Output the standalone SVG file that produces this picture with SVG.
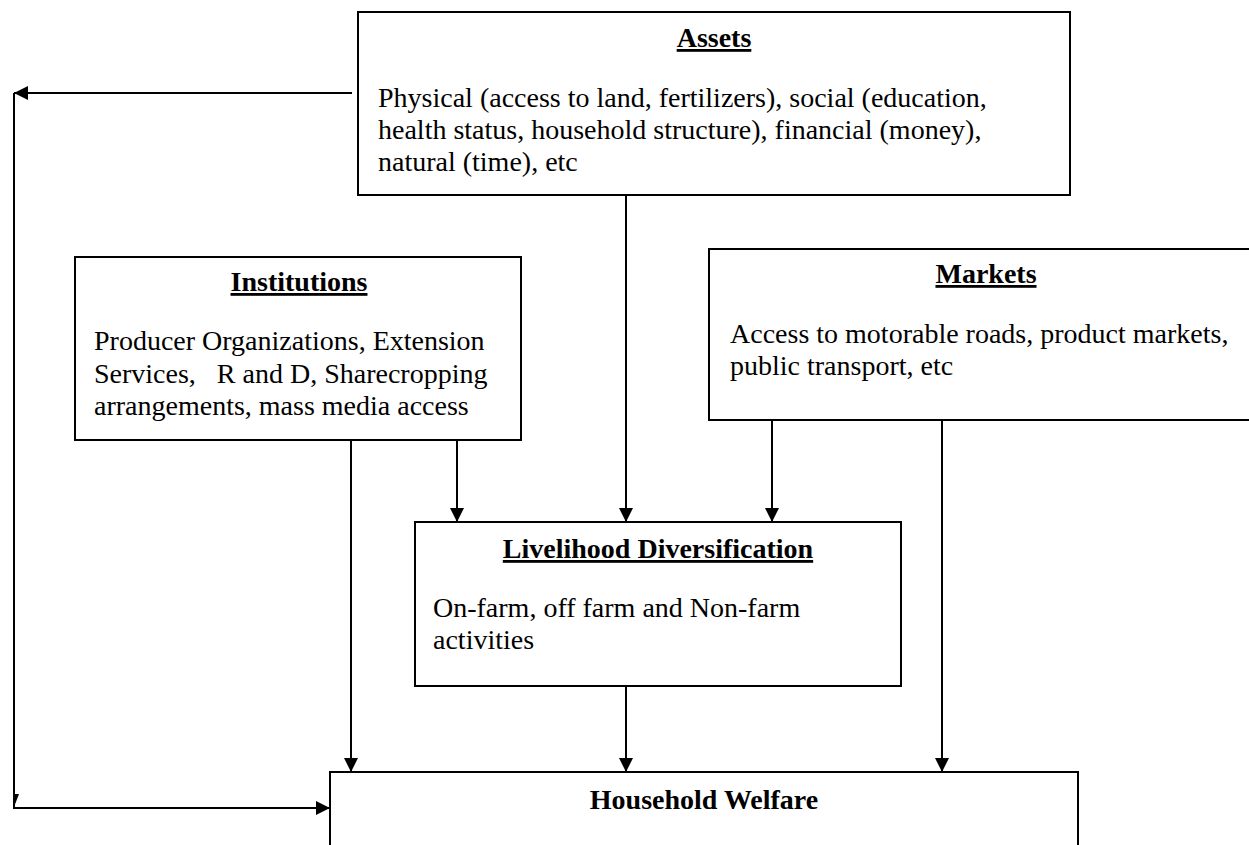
<svg xmlns="http://www.w3.org/2000/svg" width="1249" height="845" viewBox="0 0 1249 845">
<style>
.box{fill:#fff;stroke:#000;stroke-width:2}
.t{font-family:"Liberation Serif","Times New Roman",serif;font-size:28px;fill:#000}
.h{font-family:"Liberation Serif","Times New Roman",serif;font-size:28px;font-weight:bold;fill:#000;text-anchor:middle}
.u{text-decoration:underline}
.c{fill:none;stroke:#000;stroke-width:2}
</style>
<defs>
<marker id="ah" viewBox="0 0 14 14" refX="14" refY="7" markerWidth="14" markerHeight="14" markerUnits="userSpaceOnUse" orient="auto">
<path d="M0,0 L14,7 L0,14 Z" fill="#000"/>
</marker>
</defs>
<rect width="1249" height="845" fill="#fff"/>
<g id="connectors">
<path class="c" d="M352,93 L14,93" marker-end="url(#ah)"/>
<path class="c" d="M14,93 L14,808 L330,808" marker-end="url(#ah)"/>
<polygon points="13,794 19,794 14,807" fill="#000"/>
<path class="c" d="M351,440 L351,772" marker-end="url(#ah)"/>
<path class="c" d="M457,440 L457,522" marker-end="url(#ah)"/>
<path class="c" d="M626,195 L626,522" marker-end="url(#ah)"/>
<path class="c" d="M772,420 L772,522" marker-end="url(#ah)"/>
<path class="c" d="M942,420 L942,772" marker-end="url(#ah)"/>
<path class="c" d="M626,686 L626,772" marker-end="url(#ah)"/>
</g>
<g id="assets">
<rect class="box" x="358" y="12" width="712" height="183"/>
<text class="h u" x="714" y="47">Assets</text>
<text class="t" x="378" y="107">Physical (access to land, fertilizers), social (education,</text>
<text class="t" x="378" y="139">health status, household structure), financial (money),</text>
<text class="t" x="378" y="171">natural (time), etc</text>
</g>
<g id="institutions">
<rect class="box" x="75" y="257" width="446" height="183"/>
<text class="h u" x="299" y="291">Institutions</text>
<text class="t" x="94" y="350">Producer Organizations, Extension</text>
<text class="t" x="94" y="383" xml:space="preserve">Services,   R and D, Sharecropping</text>
<text class="t" x="94" y="415">arrangements, mass media access</text>
</g>
<g id="markets">
<rect class="box" x="709" y="249" width="560" height="171"/>
<text class="h u" x="986" y="283">Markets</text>
<text class="t" x="730" y="343">Access to motorable roads, product markets,</text>
<text class="t" x="730" y="375">public transport, etc</text>
</g>
<g id="livelihood">
<rect class="box" x="415" y="522" width="486" height="164"/>
<text class="h u" x="658" y="558">Livelihood Diversification</text>
<text class="t" x="433" y="617">On-farm, off farm and Non-farm</text>
<text class="t" x="433" y="649">activities</text>
</g>
<g id="welfare">
<rect class="box" x="330" y="772" width="748" height="100"/>
<text class="h" x="704" y="809">Household Welfare</text>
</g>
</svg>
